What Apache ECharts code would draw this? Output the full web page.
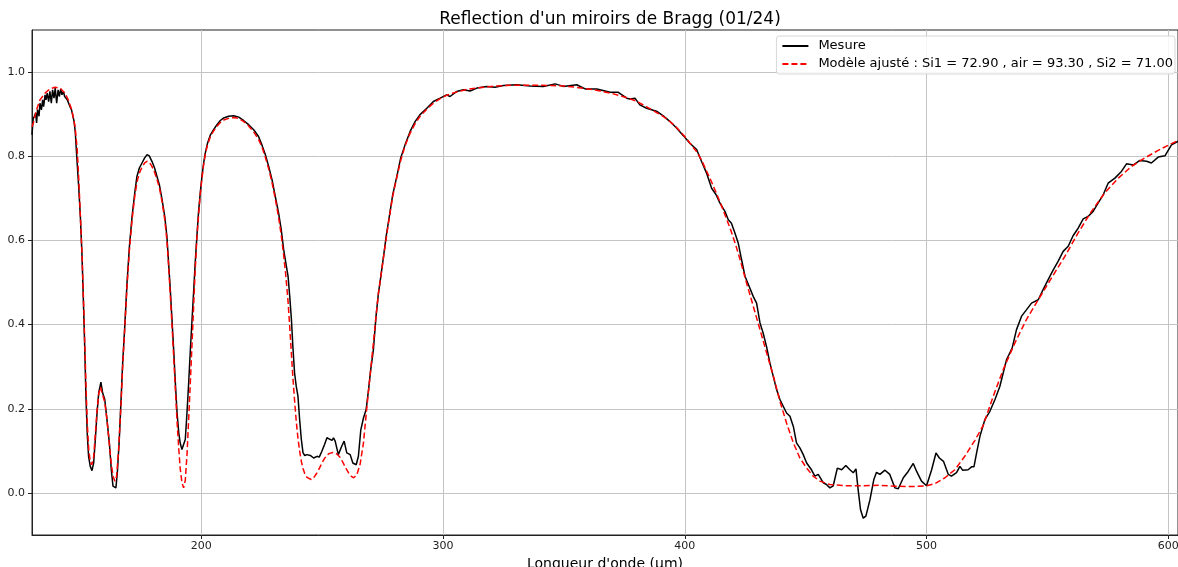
<!DOCTYPE html>
<html>
<head>
<meta charset="utf-8">
<script src="https://cdn.jsdelivr.net/npm/echarts@6/dist/echarts.min.js"></script>
<style>
  html, body { margin: 0; padding: 0; background: #fff; }
  #chart { width: 1178px; height: 567px; }
</style>
</head>
<body>
<div id="chart"></div>
<script>
// Wavelength (µm) and measured reflectance of the Bragg mirror
const mesureLambda = [
  130.0,130.5,131.0,131.5,131.9,132.3,132.9,133.3,133.9,134.4,134.8,135.4,135.8,136.3,136.9,137.4,138.0,138.5,139.1,139.6,
  140.2,140.8,141.3,141.9,142.4,143.0,143.5,144.1,144.6,145.2,145.7,146.3,146.8,147.4,147.9,148.5,149.3,150.0,150.7,151.4,
  151.8,152.3,152.9,153.4,154.1,154.8,155.5,156.2,156.9,157.6,158.5,159.2,160.1,161.0,162.0,162.8,163.5,164.2,164.7,165.3,
  166.1,166.9,167.5,168.3,169.3,170.3,171.4,172.5,173.4,174.4,175.5,176.6,177.6,178.5,179.6,180.7,181.7,182.7,183.8,184.9,
  185.8,186.5,187.2,187.9,188.6,189.3,190.0,190.7,191.3,192.0,192.7,193.4,194.1,194.8,195.5,196.2,196.9,197.5,198.2,198.9,
  199.6,200.3,201.0,201.7,202.6,203.8,205.1,206.5,207.9,209.3,211.3,213.4,215.5,217.5,219.6,221.7,223.7,225.1,226.5,227.9,
  229.3,230.6,232.0,233.1,234.1,235.0,235.9,236.6,237.3,237.9,238.6,239.3,240.0,240.7,241.4,242.1,242.8,243.7,245.1,246.5,
  247.9,248.8,249.9,251.0,252.0,253.0,254.1,254.7,255.4,256.7,258.1,259.1,260.2,261.6,262.7,264.1,265.0,266.0,267.1,268.2,
  269.2,270.1,271.2,272.3,273.3,274.3,275.4,276.5,277.8,279.2,280.9,282.5,284.3,286.4,288.5,290.5,293.3,296.0,298.8,301.5,
  302.9,305.7,308.4,311.2,314.0,318.1,321.5,325.0,330.5,336.0,341.5,346.4,349.8,355.3,358.8,363.6,369.1,372.5,376.0,377.3,
  379.4,381.4,384.2,388.3,391.1,393.8,396.6,399.4,402.1,404.9,406.9,409.0,411.1,412.9,414.5,416.6,418.0,419.3,420.7,422.1,
  423.5,424.9,426.9,428.3,429.7,431.1,432.4,433.8,435.2,436.6,438.0,439.35,442.1,443.5,444.9,446.2,447.6,449.0,450.4,452.4,
  453.8,455.2,455.9,457.3,458.6,460.0,461.4,463.1,464.9,466.6,468.3,469.7,470.8,471.7,472.7,473.8,474.9,476.6,478.2,479.3,
  480.7,482.8,484.8,486.9,488.3,490.4,492.4,494.5,495.9,497.9,500.0,502.1,503.9,505.3,507.0,509.0,510.3,512.4,513.8,514.9,
  517.2,518.6,519.6,520.7,522.1,524.1,526.2,528.3,530.3,531.7,533.1,535.4,537.2,539.3,541.3,543.4,546.2,548.2,550.3,552.4,
  554.4,556.5,558.6,560.6,562.7,564.8,566.8,568.9,571.0,573.1,575.1,577.9,580.6,582.7,585.5,588.2,591.0,593.0,595.8,598.6,
  601.3,603.9,604.5
];
const mesureR = [
  0.851,0.890,0.895,0.903,0.879,0.911,0.895,0.926,0.910,0.934,0.918,0.946,0.934,0.950,0.930,0.954,0.926,0.958,0.938,0.962,
  0.926,0.958,0.942,0.960,0.946,0.954,0.942,0.944,0.934,0.930,0.918,0.911,0.899,0.883,0.857,0.800,0.728,0.657,0.562,0.428,
  0.348,0.230,0.135,0.087,0.063,0.053,0.071,0.127,0.190,0.238,0.263,0.238,0.222,0.174,0.119,0.055,0.016,0.012,0.012,0.048,
  0.127,0.230,0.309,0.388,0.499,0.586,0.657,0.713,0.752,0.772,0.784,0.796,0.804,0.801,0.788,0.772,0.752,0.732,0.697,0.657,
  0.610,0.546,0.483,0.412,0.340,0.261,0.190,0.143,0.119,0.103,0.099,0.127,0.190,0.261,0.340,0.412,0.483,0.546,0.610,0.669,
  0.713,0.752,0.784,0.808,0.831,0.851,0.863,0.875,0.885,0.891,0.895,0.896,0.893,0.885,0.875,0.863,0.847,0.827,0.804,0.776,
  0.744,0.705,0.665,0.625,0.578,0.546,0.515,0.467,0.412,0.348,0.285,0.253,0.230,0.174,0.127,0.095,0.089,0.091,0.089,0.083,
  0.087,0.085,0.099,0.115,0.131,0.128,0.125,0.131,0.123,0.091,0.111,0.123,0.095,0.091,0.071,0.067,0.087,0.150,0.178,0.198,
  0.245,0.293,0.340,0.420,0.475,0.515,0.562,0.610,0.657,0.709,0.752,0.796,0.827,0.859,0.883,0.899,0.914,0.930,0.938,0.946,
  0.942,0.954,0.958,0.955,0.962,0.966,0.964,0.968,0.970,0.967,0.966,0.972,0.966,0.970,0.960,0.960,0.952,0.952,0.938,0.936,
  0.938,0.922,0.914,0.907,0.896,0.883,0.867,0.849,0.831,0.816,0.788,0.760,0.724,0.709,0.689,0.669,0.649,0.641,0.618,0.594,
  0.554,0.515,0.487,0.467,0.451,0.404,0.380,0.348,0.309,0.277,0.245,0.222,0.190,0.182,0.158,0.119,0.107,0.091,0.071,0.055,
  0.040,0.044,0.048,0.024,0.020,0.012,0.017,0.059,0.055,0.065,0.055,0.048,0.057,0.008,-0.040,-0.060,-0.055,-0.016,0.032,0.049,
  0.044,0.054,0.044,0.012,0.010,0.036,0.051,0.070,0.051,0.028,0.017,0.055,0.095,0.083,0.075,0.044,0.040,0.048,0.063,0.054,
  0.055,0.062,0.062,0.095,0.135,0.174,0.194,0.222,0.253,0.285,0.317,0.344,0.388,0.420,0.435,0.451,0.459,0.483,0.507,0.530,
  0.550,0.574,0.586,0.611,0.629,0.651,0.657,0.669,0.689,0.709,0.736,0.748,0.764,0.782,0.779,0.790,0.788,0.784,0.798,0.801,
  0.827,0.835,0.838
];

// Fitted model: Si1 = 72.90, air = 93.30, Si2 = 71.00
const modeleLambda = [
  130.0,130.55,131.9,133.3,135.4,137.4,139.5,141.6,143.6,145.0,146.4,147.8,148.7,149.3,150.0,150.7,151.4,152.3,152.9,153.5,
  154.1,154.7,155.5,156.2,156.9,157.6,158.3,159.0,160.1,161.0,162.0,162.8,163.6,164.3,165.0,165.8,166.9,167.5,168.3,169.3,
  170.3,171.4,172.5,173.4,174.4,175.5,176.6,177.6,178.5,179.6,180.7,181.7,182.7,183.8,184.9,185.8,186.5,187.2,187.9,188.6,
  189.3,190.0,190.7,191.3,192.0,192.7,193.4,194.1,194.8,195.5,196.2,196.9,197.5,198.2,198.9,199.6,200.3,201.0,201.7,202.6,
  203.8,205.1,206.5,207.9,209.3,211.3,213.4,215.5,217.5,219.6,221.7,223.7,225.1,226.5,227.9,229.3,230.6,232.0,233.1,234.1,
  235.0,235.9,236.6,237.3,237.9,238.6,239.3,240.0,240.7,241.4,242.1,242.8,243.7,244.5,245.5,246.5,247.9,249.0,250.0,251.0,
  252.0,253.0,254.5,256.0,257.5,258.8,260.0,261.0,262.0,263.0,264.3,265.7,267.1,268.4,269.8,271.2,272.3,273.3,274.3,275.4,
  276.5,277.8,279.2,280.9,282.5,284.3,286.4,288.5,290.5,293.3,296.0,298.8,301.5,305.7,310.0,315.0,320.0,325.0,330.0,335.0,
  340.0,345.0,350.0,355.0,360.0,365.0,370.0,375.0,380.0,384.0,388.0,391.0,394.0,397.0,400.0,402.0,405.0,407.0,409.0,411.0,
  413.0,415.0,417.0,419.0,421.0,423.0,425.0,427.0,429.0,431.0,433.0,435.0,437.0,439.35,442.1,444.9,447.6,450.4,453.1,455.9,
  460.0,466.9,473.0,480.7,487.6,494.0,500.0,503.4,507.6,511.7,515.8,520.0,523.4,527.6,531.7,536.5,541.3,546.2,551.7,557.2,
  562.7,568.2,573.7,579.3,584.8,590.3,595.8,601.3,604.5
];
const modeleR = [
  0.870,0.879,0.911,0.934,0.950,0.960,0.964,0.962,0.950,0.934,0.911,0.871,0.816,0.750,0.660,0.565,0.440,0.260,0.160,0.100,
  0.075,0.067,0.085,0.140,0.195,0.235,0.252,0.248,0.215,0.175,0.115,0.068,0.038,0.028,0.040,0.100,0.220,0.300,0.385,0.490,
  0.578,0.650,0.705,0.738,0.760,0.774,0.784,0.788,0.786,0.776,0.762,0.745,0.725,0.692,0.650,0.600,0.540,0.470,0.400,0.325,
  0.245,0.170,0.105,0.058,0.025,0.012,0.030,0.090,0.175,0.265,0.355,0.450,0.530,0.605,0.660,0.710,0.748,0.780,0.805,0.827,
  0.847,0.860,0.871,0.880,0.886,0.890,0.892,0.890,0.883,0.872,0.858,0.840,0.822,0.798,0.770,0.737,0.700,0.655,0.612,0.565,
  0.515,0.455,0.395,0.330,0.275,0.220,0.170,0.130,0.100,0.075,0.058,0.046,0.037,0.033,0.032,0.036,0.048,0.060,0.072,0.082,
  0.090,0.094,0.096,0.093,0.084,0.070,0.057,0.047,0.040,0.036,0.042,0.068,0.119,0.198,0.277,0.356,0.420,0.475,0.515,0.560,
  0.605,0.655,0.705,0.750,0.790,0.825,0.855,0.878,0.895,0.912,0.926,0.937,0.945,0.953,0.959,0.963,0.966,0.968,0.969,0.969,
  0.969,0.968,0.967,0.964,0.960,0.955,0.949,0.941,0.931,0.918,0.905,0.895,0.882,0.866,0.847,0.832,0.810,0.790,0.765,0.740,
  0.713,0.685,0.655,0.625,0.590,0.552,0.510,0.470,0.430,0.390,0.350,0.310,0.270,0.218,0.166,0.119,0.083,0.059,0.040,0.028,
  0.020,0.017,0.017,0.018,0.016,0.015,0.017,0.022,0.036,0.055,0.087,0.125,0.160,0.230,0.293,0.356,0.412,0.459,0.511,0.562,
  0.618,0.669,0.713,0.748,0.776,0.796,0.814,0.830,0.838
];

// Tick positions shown on each axis
const xTicks = [200, 300, 400, 500, 600];
const yTicks = [0.0, 0.2, 0.4, 0.6, 0.8, 1.0];

const zip = (xs, ys) => xs.map((x, i) => [x, ys[i]]);

const FONT = '"DejaVu Sans", sans-serif';
const chart = echarts.init(document.getElementById('chart'), null, { renderer: 'canvas' });

chart.setOption({
  animation: false,
  backgroundColor: '#ffffff',
  title: {
    text: "Reflection d'un miroirs de Bragg (01/24)",
    left: 605,
    textAlign: 'center',
    top: 6,
    textStyle: { fontFamily: FONT, fontSize: 17, fontWeight: 'normal', color: '#000' }
  },
  legend: {
    orient: 'vertical',
    right: 3,
    top: 36,
    padding: [3, 2, 3, 5],
    itemWidth: 26,
    itemHeight: 10,
    itemGap: 4,
    borderColor: '#d6d6d6',
    borderWidth: 1,
    borderRadius: 3,
    backgroundColor: 'rgba(255,255,255,0.85)',
    itemStyle: { opacity: 0 },
    textStyle: { fontFamily: FONT, fontSize: 13, color: '#000', lineHeight: 14, padding: [0, 0, 0, 5] },
    data: ['Mesure', 'Modèle ajusté : Si1 = 72.90 , air = 93.30 , Si2 = 71.00']
  },
  grid: {
    left: 32, right: 0, top: 30, bottom: 32,
    outerBoundsMode: 'none',
    containLabel: false,
    show: true, borderColor: '#222', borderWidth: 1, backgroundColor: 'transparent'
  },
  xAxis: {
    type: 'value',
    min: 130,
    max: 604,
    name: "Longueur d'onde (µm)",
    nameLocation: 'middle',
    nameGap: 21,
    nameTextStyle: { fontFamily: FONT, fontSize: 14, color: '#000' },
    axisLine: { show: true, onZero: false, lineStyle: { color: '#222', width: 1 } },
    axisTick: { show: true, customValues: xTicks, length: 4, lineStyle: { color: '#222' } },
    axisLabel: { customValues: xTicks, fontFamily: FONT, fontSize: 11, color: '#222', margin: 6 },
    splitLine: { show: true, lineStyle: { color: '#c4c4c4', width: 1 } }
  },
  yAxis: {
    type: 'value',
    min: -0.1,
    max: 1.1,
    axisLine: { show: true, onZero: false, lineStyle: { color: '#222', width: 1 } },
    axisTick: { show: true, customValues: yTicks, length: 4, lineStyle: { color: '#222' } },
    axisLabel: {
      customValues: yTicks,
      formatter: v => Number(v).toFixed(1),
      fontFamily: FONT, fontSize: 11, color: '#222', margin: 7
    },
    splitLine: { show: true, lineStyle: { color: '#c4c4c4', width: 1 } }
  },
  series: [
    {
      name: 'Mesure',
      type: 'line',
      data: zip(mesureLambda, mesureR),
      showSymbol: false,
      symbol: 'none',
      clip: true,
      lineStyle: { color: '#000000', width: 1.5 },
      itemStyle: { color: '#000000' },
      z: 2
    },
    {
      name: 'Modèle ajusté : Si1 = 72.90 , air = 93.30 , Si2 = 71.00',
      type: 'line',
      data: zip(modeleLambda, modeleR),
      showSymbol: false,
      symbol: 'none',
      clip: true,
      lineStyle: { color: '#ff0000', width: 1.5, type: [6, 3] },
      itemStyle: { color: '#ff0000' },
      z: 3
    }
  ]
});
</script>
</body>
</html>
